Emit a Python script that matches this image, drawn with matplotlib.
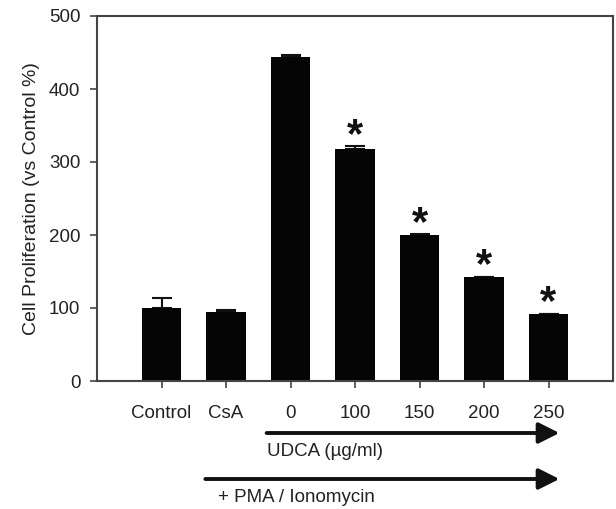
import matplotlib
matplotlib.use("Agg")
import matplotlib.pyplot as plt
import matplotlib.transforms as mtransforms

categories = ["Control", "CsA", "0", "100", "150", "200", "250"]
values = [100, 94, 444, 318, 200, 142, 92]
errors = [14, 3, 3, 4, 1, 1, 0]
significant = [False, False, False, True, True, True, True]
yticks = [0, 100, 200, 300, 400, 500]

plt.rcParams['font.family'] = ['Liberation Sans', 'DejaVu Sans']
text_color = "#222222"
spine_color = "#444444"

fig = plt.figure(figsize=(6.16, 5.09), dpi=100)
ax = fig.add_axes([97/616, 1-381/509, (613-97)/616, (381-16)/509])

x = list(range(len(categories)))
ax.bar(x, values, width=0.62, color="#050505", zorder=2)
ax.errorbar(x, values, yerr=[[0]*len(errors), errors], fmt='none',
            ecolor="#111111", elinewidth=1.5, capsize=7, capthick=1.5, zorder=1)

for xi, v, e, s in zip(x, values, errors, significant):
    if s:
        ax.text(xi, v + e - 1, "*", ha='center', va='baseline', fontsize=30,
                fontweight='bold', color="#111111")

ax.set_xlim(-1, 7)
ax.set_ylim(0, 500)
ax.set_yticks(yticks)
ax.set_xticks(x)
ax.set_xticklabels(categories)
ax.tick_params(axis='x', direction='out', length=5, width=1.2, pad=12,
               labelsize=13.5, colors=spine_color, labelcolor=text_color)
ax.tick_params(axis='y', direction='out', length=5, width=1.2, pad=7,
               labelsize=13.5, colors=spine_color, labelcolor=text_color)
for sp in ax.spines.values():
    sp.set_color(spine_color)
    sp.set_linewidth(1.5)

fig.text(32/616, 1-(60+337)/2/509, "Cell Proliferation (vs Control %)", rotation=90,
         ha='center', va='center', fontsize=14, color=text_color)

trans = mtransforms.blended_transform_factory(ax.transData, fig.transFigure)
arrow_props = dict(arrowstyle='-|>,head_length=0.9,head_width=0.45', lw=2.8,
                   color="#111111", shrinkA=0, shrinkB=0, mutation_scale=14)
ax.annotate("", xy=(6.17, 1-433/509), xytext=(1.63, 1-433/509),
            xycoords=trans, textcoords=trans, arrowprops=arrow_props,
            annotation_clip=False)
ax.annotate("", xy=(6.17, 1-479/509), xytext=(0.68, 1-479/509),
            xycoords=trans, textcoords=trans, arrowprops=arrow_props,
            annotation_clip=False)
ax.text(1.64, 1-451/509, "UDCA (\u00b5g/ml)", transform=trans, ha='left', va='center',
        fontsize=13.5, color=text_color)
ax.text(0.87, 1-497/509, "+ PMA / Ionomycin", transform=trans, ha='left', va='center',
        fontsize=13.5, color=text_color)

fig.savefig("out.png", dpi=100)
